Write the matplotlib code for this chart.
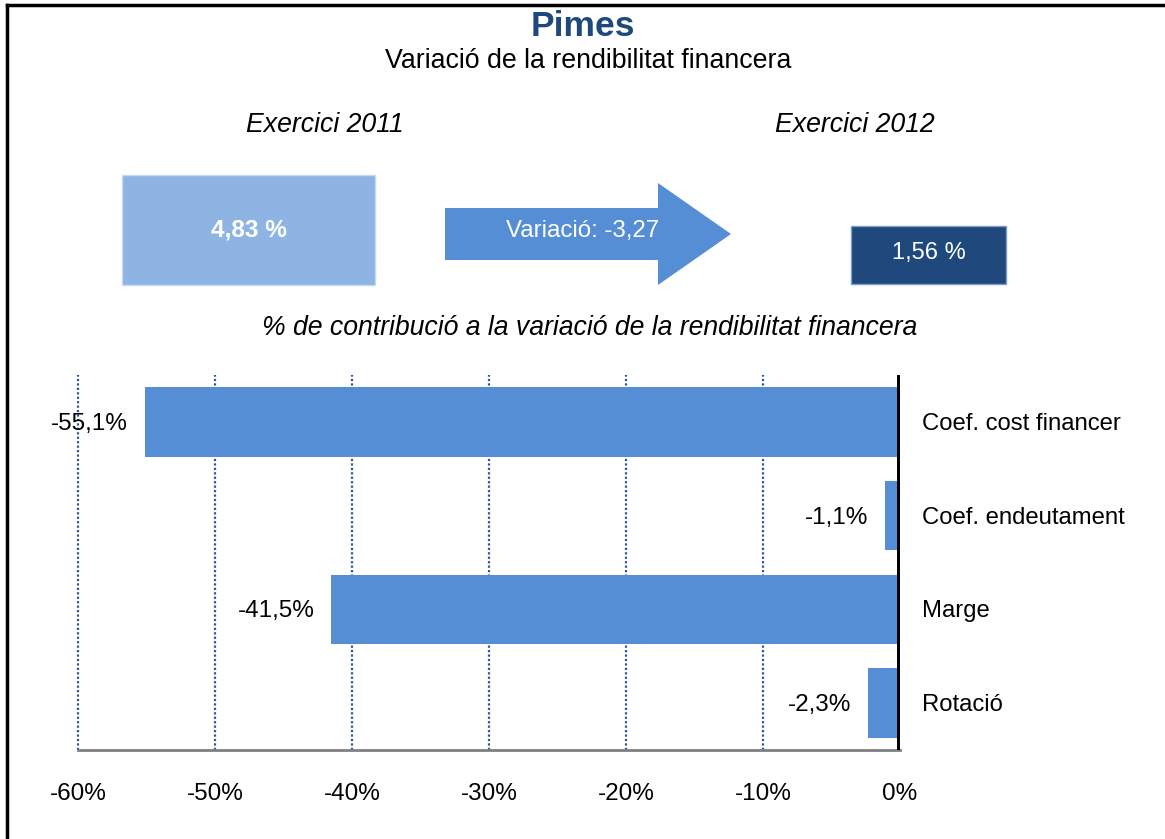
import matplotlib
matplotlib.use("Agg")
import matplotlib.pyplot as plt
from matplotlib.patches import Rectangle, Polygon

plt.rcParams['font.family'] = ['Liberation Sans', 'DejaVu Sans']

categories = ["Coef. cost financer", "Coef. endeutament", "Marge", "Rotació"]
values = [-55.1, -1.1, -41.5, -2.3]
value_labels = ["-55,1%", "-1,1%", "-41,5%", "-2,3%"]
xticks = [-60, -50, -40, -30, -20, -10, 0]
xtick_labels = ["-60%", "-50%", "-40%", "-30%", "-20%", "-10%", "0%"]
rend_2011 = "4,83 %"
rend_2012 = "1,56 %"
variacio = "Variació: -3,27"

W, H = 1165, 839
fig = plt.figure(figsize=(W / 100, H / 100), dpi=100)

bar_color = "#558ED5"
grid_color = "#2F5597"

# Main bar chart
ax = fig.add_axes([78 / W, 1 - 750 / H, (900 - 78) / W, (750 - 375) / H])
y = list(range(len(categories)))
ax.barh(y, values, height=0.74, color=bar_color, zorder=2)
ax.set_xlim(-60, 0)
ax.set_ylim(3.5, -0.5)
for t in xticks[:-1]:
    ax.axvline(t, color=grid_color, linestyle=(0, (1, 1)), lw=1.6, zorder=1,
               clip_on=False)
ax.axvline(0, color="black", lw=5, zorder=3)
for s in ["top", "right", "left"]:
    ax.spines[s].set_visible(False)
ax.spines["bottom"].set_color("#808080")
ax.spines["bottom"].set_linewidth(2)
ax.set_yticks([])
ax.set_xticks(xticks)
ax.set_xticklabels(xtick_labels, fontsize=17.5)
ax.tick_params(axis="x", length=0, pad=24)
for yi, v, lab, cat in zip(y, values, value_labels, categories):
    ax.annotate(lab, (v, yi), xytext=(-17, -2), textcoords="offset pixels",
                ha="right", va="center", fontsize=17.5)
    ax.annotate(cat, (0, yi), xytext=(22, -2), textcoords="offset pixels",
                ha="left", va="center", fontsize=17.2)

# Overlay for header graphics (pixel coordinates)
ov = fig.add_axes([0, 0, 1, 1])
ov.set_xlim(0, W)
ov.set_ylim(H, 0)
ov.axis("off")

# Frame
ov.plot([7, W], [5, 5], color="black", lw=2.5)
ov.plot([7, 7], [5, H], color="black", lw=2.5)

ov.text(583, 27, "Pimes", ha="center", va="center", fontsize=25.5,
        fontweight="bold", color="#1F497D")
ov.text(588, 61, "Variació de la rendibilitat financera", ha="center",
        va="center", fontsize=19.3)
ov.text(325, 125, "Exercici 2011", ha="center", va="center", fontsize=19.2,
        style="italic")
ov.text(855, 125, "Exercici 2012", ha="center", va="center", fontsize=19.2,
        style="italic")
ov.text(590, 328, "% de contribució a la variació de la rendibilitat financera",
        ha="center", va="center", fontsize=19.2, style="italic")

ov.add_patch(Rectangle((122, 175), 253, 110, facecolor="#8EB4E3",
                       edgecolor="#C6D9F1", lw=1))
ov.text(249, 230, rend_2011, ha="center", va="center", fontsize=17.6,
        fontweight="bold", color="white")

ov.add_patch(Polygon([(445, 208), (658, 208), (658, 183), (731, 234),
                      (658, 285), (658, 260), (445, 260)],
                     closed=True, facecolor=bar_color, edgecolor="none"))
ov.text(583, 231, variacio, ha="center", va="center", fontsize=17.3,
        color="white")

ov.add_patch(Rectangle((851, 226), 155, 58, facecolor="#1F497D",
                       edgecolor="#7F9DC6", lw=1))
ov.text(929, 253, rend_2012, ha="center", va="center", fontsize=17,
        color="white")

fig.savefig("out.png", dpi=100)
